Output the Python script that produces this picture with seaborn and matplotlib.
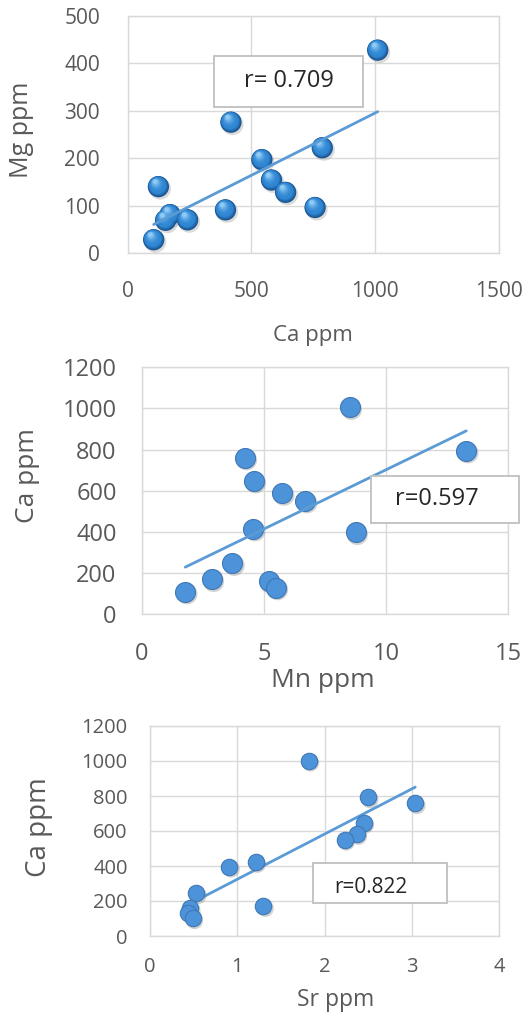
import numpy as np
import pandas as pd
import seaborn as sns
import matplotlib.pyplot as plt
from matplotlib.transforms import offset_copy
from matplotlib.patches import Rectangle
from matplotlib.colors import to_rgb

# Mg against Ca
ca_mg = [1010, 417, 786, 542, 581, 638, 757, 395, 124, 171, 153, 242, 105]
mg = [428, 276, 222, 197, 154, 128, 96, 91, 140, 81, 69, 70, 28]

# Ca against Mn
mn = [8.51, 13.28, 4.22, 4.59, 5.75, 6.69, 4.56, 8.75, 3.71, 2.87, 5.19, 5.49, 1.78]
ca_mn = [1006, 795, 761, 649, 589, 552, 416, 398, 248, 170, 162, 130, 110]

# Ca against Sr
sr = [1.82, 2.50, 3.04, 2.45, 2.37, 2.23, 1.21, 0.91, 0.53, 1.30, 0.46, 0.44, 0.49]
ca_sr = [1002, 792, 758, 648, 583, 550, 423, 396, 244, 171, 158, 130, 101]

r_labels = ["r= 0.709", "r=0.597", "r=0.822"]

x_ticks_1 = [0, 500, 1000, 1500]
y_ticks_1 = [0, 100, 200, 300, 400, 500]
x_ticks_2 = [0, 5, 10, 15]
y_ticks_2 = [0, 200, 400, 600, 800, 1000, 1200]
x_ticks_3 = [0, 1, 2, 3, 4]
y_ticks_3 = [0, 200, 400, 600, 800, 1000, 1200]

sns.set_theme(style="white")
plt.rcParams["font.family"] = ["Open Sans", "DejaVu Sans"]

GRID = "#D9D9D9"
TEXT = "#595959"
LINE = "#5B9BD5"
FILL = "#4D93D9"

W, H = 526, 1017
fig = plt.figure(figsize=(W / 100, H / 100), dpi=100)


def axes_px(left, top, right, bottom):
    return fig.add_axes([left / W, 1 - bottom / H, (right - left) / W, (bottom - top) / H])


def style_axes(ax, xt, yt, tick_size, xpad, ypad):
    ax.set_xlim(xt[0], xt[-1])
    ax.set_ylim(yt[0], yt[-1])
    ax.set_xticks(xt)
    ax.set_yticks(yt)
    ax.grid(True, color=GRID, lw=1.0)
    ax.set_axisbelow(True)
    for sp in ax.spines.values():
        sp.set_visible(True)
        sp.set_color(GRID)
        sp.set_linewidth(1.0)
    ax.tick_params(axis="x", length=0, pad=xpad, labelsize=tick_size, labelcolor=TEXT)
    ax.tick_params(axis="y", length=0, pad=ypad, labelsize=tick_size, labelcolor=TEXT)
    ax.set_facecolor("white")


def r_box(ax, label, x0, y0, x1, y1, tx, ty, size):
    ax.add_patch(Rectangle((x0, y0), x1 - x0, y1 - y0, transform=ax.transAxes,
                           facecolor="white", edgecolor="#BFBFBF", lw=1.3,
                           clip_on=False, zorder=6))
    ax.text(tx, ty, label, transform=ax.transAxes, ha="center", va="center",
            fontsize=size, color="#262626", zorder=7, clip_on=False)


def sphere_markers(ax, x, y, size):
    # shaded spheres: dark base with lighter discs shifted toward the top
    dark = np.array(to_rgb("#1B5590"))
    mid = np.array(to_rgb("#2F86D3"))
    light = np.array(to_rgb("#8FCBF4"))
    d0 = np.sqrt(size)
    sns.scatterplot(x=x, y=y, ax=ax, s=size * 1.05, color="#9A9A9A", alpha=0.35,
                    edgecolor="none", zorder=3,
                    transform=offset_copy(ax.transData, fig=fig, x=1.2, y=-1.5, units="points"))
    sns.scatterplot(x=x, y=y, ax=ax, s=size, color=dark, edgecolor="none", zorder=3.1)
    fracs = np.linspace(0.93, 0.2, 12)
    for i, f in enumerate(fracs):
        if i < 3:
            col = dark + (mid - dark) * (i + 1) / 3
        else:
            t = (i - 3) / (len(fracs) - 4)
            col = mid + (light - mid) * t ** 1.8
        shift = (d0 - d0 * f) / 2 * 0.7
        tr = offset_copy(ax.transData, fig=fig, x=-shift * 0.55, y=shift * 0.85, units="points")
        ax.scatter(x, y, s=size * f * f, color=col, edgecolor="none", zorder=3.2 + i * 0.01,
                   transform=tr)


def flat_markers(ax, x, y, size):
    sns.scatterplot(x=x, y=y, ax=ax, s=size * 1.1, color="#7F7F7F", alpha=0.35,
                    edgecolor="none", zorder=3,
                    transform=offset_copy(ax.transData, fig=fig, x=1.3, y=-1.6, units="points"))
    sns.scatterplot(x=x, y=y, ax=ax, s=size, color=FILL, edgecolor="#3F78B5",
                    linewidth=0.8, zorder=3.2)


# Panel 1: Mg vs Ca
ax1 = axes_px(127.7, 16, 499, 253)
sphere_markers(ax1, ca_mg, mg, 235)
sns.regplot(x=ca_mg, y=mg, ax=ax1, ci=None, scatter=False,
            line_kws=dict(color=LINE, lw=2.0, zorder=4))
style_axes(ax1, x_ticks_1, y_ticks_1, 15, 20, 20)
ax1.set_xlabel("Ca ppm", fontsize=16, color=TEXT, va="center")
ax1.set_ylabel("Mg ppm", fontsize=18, color=TEXT, va="center")
ax1.xaxis.set_label_coords(0.5, -0.346)
ax1.yaxis.set_label_coords(-0.285, 0.521)
r_box(ax1, r_labels[0], 0.232, 0.616, 0.634, 0.831, 0.434, 0.724, 17)

# Panel 2: Ca vs Mn
ax2 = axes_px(141.7, 367.3, 508.3, 614.3)
flat_markers(ax2, mn, ca_mn, 207)
sns.regplot(x=mn, y=ca_mn, ax=ax2, ci=None, scatter=False,
            line_kws=dict(color=LINE, lw=2.0, zorder=4))
style_axes(ax2, x_ticks_2, y_ticks_2, 17, 20, 18)
ax2.set_xlabel("Mn ppm", fontsize=19, color=TEXT, va="center")
ax2.set_ylabel("Ca ppm", fontsize=19, color=TEXT, va="center")
ax2.xaxis.set_label_coords(0.4945, -0.266)
ax2.yaxis.set_label_coords(-0.3115, 0.5615)
r_box(ax2, r_labels[1], 0.6247, 0.368, 1.030, 0.561, 0.805, 0.465, 17)

# Panel 3: Ca vs Sr
ax3 = axes_px(150, 726, 499, 936)
sns.regplot(x=sr, y=ca_sr, ax=ax3, ci=None, scatter=False,
            line_kws=dict(color=LINE, lw=2.0, zorder=2.5))
flat_markers(ax3, sr, ca_sr, 140)
style_axes(ax3, x_ticks_3, y_ticks_3, 14.5, 15, 16)
ax3.set_xlabel("Sr ppm", fontsize=16.5, color=TEXT, va="center")
ax3.set_ylabel("Ca ppm", fontsize=20, color=TEXT, va="center")
ax3.xaxis.set_label_coords(0.533, -0.305)
ax3.yaxis.set_label_coords(-0.318, 0.517)
r_box(ax3, r_labels[2], 0.468, 0.159, 0.850, 0.349, 0.633, 0.229, 15)

fig.savefig("out.png", dpi=100, facecolor="white")
